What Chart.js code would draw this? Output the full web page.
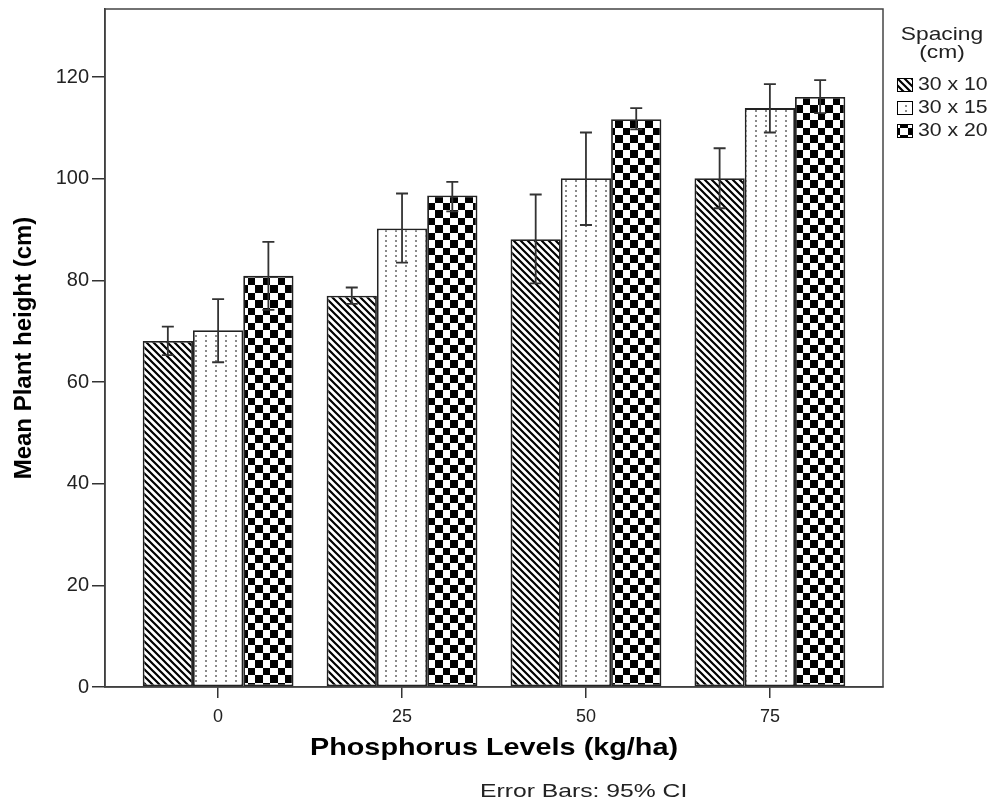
<!DOCTYPE html>
<html>
<head>
<meta charset="utf-8">
<script src="https://cdn.jsdelivr.net/npm/chart.js@4/dist/chart.umd.min.js"></script>
<style>
html,body{margin:0;padding:0;background:#fff;}
canvas{display:block;}
</style>
</head>
<body>
<canvas id="plantChart" width="992" height="811"></canvas>
<script>
// ---------- data ----------
const levels = ["0","25","50","75"];
const spacings = ["30 x 10","30 x 15","30 x 20"];

const mean30x10 = [68.1, 77.0, 88.1, 100.1];
const mean30x15 = [70.2, 90.2, 100.1, 113.9];
const mean30x20 = [80.9, 96.7, 111.7, 116.1];

// 95% CI limits
const low30x10 = [65.3, 75.4, 79.4, 94.2];
const high30x10 = [70.9, 78.6, 96.9, 106.0];
const low30x15 = [63.9, 83.5, 90.9, 109.1];
const high30x15 = [76.3, 97.1, 109.1, 118.6];
const low30x20 = [74.2, 93.6, 109.7, 112.9];
const high30x20 = [87.6, 99.4, 113.9, 119.4];

const yTicks = [0,20,40,60,80,100,120];

const canvas = document.getElementById("plantChart");
const ctx = canvas.getContext("2d");

// ---------- fill patterns ----------
function hatchPattern(){
    const c = document.createElement("canvas");
    c.width = 7; c.height = 7;
    const g = c.getContext("2d");
    g.fillStyle = "#fff";
    g.fillRect(0,0,7,7);
    g.strokeStyle = "#000";
    g.lineWidth = 2.2;
    g.beginPath();
    g.moveTo(-1,-1); g.lineTo(8,8);
    g.moveTo(-1,6); g.lineTo(1,8);
    g.moveTo(6,-1); g.lineTo(8,1);
    g.stroke();
    return ctx.createPattern(c,"repeat");
}

function dotPattern(){
    const c = document.createElement("canvas");
    c.width = 10; c.height = 5;
    const g = c.getContext("2d");
    g.fillStyle = "#fff";
    g.fillRect(0,0,10,5);
    g.fillStyle = "#8a8a8a";
    g.fillRect(5,0,2,2);
    return ctx.createPattern(c,"repeat");
}

function checkerPattern(){
    const c = document.createElement("canvas");
    c.width = 15; c.height = 15;
    const g = c.getContext("2d");
    g.fillStyle = "#fff";
    g.fillRect(0,0,15,15);
    g.fillStyle = "#000";
    g.fillRect(0,0,8,8);
    g.fillRect(8,8,7,7);
    return ctx.createPattern(c,"repeat");
}

const fills = [hatchPattern(), dotPattern(), checkerPattern()];
const means = [mean30x10, mean30x15, mean30x20];
const lows = [low30x10, low30x15, low30x20];
const highs = [high30x10, high30x15, high30x20];

// ---------- plugins ----------
const errorBars = {
    id:"errorBars",
    afterDatasetsDraw(chart){
        const c = chart.ctx;
        const y = chart.scales.y;
        c.save();
        c.strokeStyle = "#333";
        c.lineWidth = 1.8;
        chart.data.datasets.forEach((ds,d)=>{
            chart.getDatasetMeta(d).data.forEach((bar,i)=>{
                const top = y.getPixelForValue(highs[d][i]);
                const bot = y.getPixelForValue(lows[d][i]);
                c.beginPath();
                c.moveTo(bar.x,top); c.lineTo(bar.x,bot);
                c.moveTo(bar.x-6,top); c.lineTo(bar.x+6,top);
                c.moveTo(bar.x-6,bot); c.lineTo(bar.x+6,bot);
                c.stroke();
            });
        });
        c.restore();
    }
};

function stretchText(c,text,x,y,sx,align){
    c.save();
    c.translate(x,y);
    c.scale(sx,1);
    c.textAlign = align;
    c.fillText(text,0,0);
    c.restore();
}

const frameAndLegend = {
    id:"frameAndLegend",
    afterDraw(chart){
        const c = chart.ctx;
        const a = chart.chartArea;
        c.save();

        // frame
        c.strokeStyle = "#444";
        c.lineWidth = 1.5;
        c.strokeRect(a.left,a.top,a.right-a.left,a.bottom-a.top);

        // x axis title
        c.fillStyle = "#000";
        c.textBaseline = "middle";
        c.font = "bold 24px 'Liberation Sans'";
        stretchText(c,"Phosphorus Levels (kg/ha)",(a.left+a.right)/2,748,1.2,"center");

        // legend
        c.fillStyle = "#222";
        c.font = "19px 'Liberation Sans'";
        stretchText(c,"Spacing",942,35,1.2,"center");
        stretchText(c,"(cm)",942,53,1.2,"center");

        c.font = "18px 'Liberation Sans'";
        spacings.forEach((name,k)=>{
            const yy = 85 + k*23;
            c.fillStyle = fills[k];
            c.fillRect(897,yy-7,16,14);
            c.strokeStyle = "#000";
            c.lineWidth = 1;
            c.strokeRect(897.5,yy-6.5,15,13);
            c.fillStyle = "#222";
            stretchText(c,name,918,yy,1.18,"left");
        });

        // footer
        c.font = "19px 'Liberation Sans'";
        stretchText(c,"Error Bars: 95% CI",480,792,1.3,"left");

        c.restore();
    }
};

// ---------- chart ----------
new Chart(canvas,{
    type:"bar",
    data:{
        datasets:spacings.map((name,k)=>({
            label:name,
            data:levels.map((lv,i)=>({x:i,y:means[k][i]})),
            backgroundColor:fills[k],
            borderColor:"#222",
            borderWidth:1.8,
            borderSkipped:false,
            categoryPercentage:0.82,
            barPercentage:1
        }))
    },
    options:{
        responsive:false,
        animation:false,
        layout:{padding:{left:0,right:109,top:9,bottom:0}},
        plugins:{
            legend:{display:false},
            tooltip:{enabled:false}
        },
        scales:{
            x:{
                type:"linear",
                min:-0.615,
                max:3.615,
                offset:false,
                afterBuildTicks:s=>{ s.ticks = levels.map((lv,i)=>({value:i})); },
                afterFit:s=>{ s.height = 124; s.paddingLeft = 0; s.paddingRight = 0; },
                ticks:{
                    callback:v=>levels[v],
                    font:{family:"Liberation Sans",size:18},
                    color:"#222",
                    padding:8,
                    maxRotation:0,
                    autoSkip:false
                },
                grid:{drawOnChartArea:false,offset:false,tickLength:11,color:"#333",lineWidth:1.5},
                border:{display:true,color:"#333",width:1.5}
            },
            y:{
                min:0,
                max:133.4,
                afterBuildTicks:s=>{ s.ticks = yTicks.map(v=>({value:v})); },
                afterFit:s=>{ s.width = 105; s.paddingTop = 0; s.paddingBottom = 0; },
                ticks:{
                    font:{family:"Liberation Sans",size:20},
                    color:"#222",
                    padding:3
                },
                grid:{drawOnChartArea:false,tickLength:13,color:"#333",lineWidth:1.5},
                border:{display:true,color:"#333",width:1.5},
                title:{
                    display:true,
                    text:"Mean Plant height (cm)",
                    font:{family:"Liberation Sans",size:24,weight:"bold",lineHeight:1},
                    color:"#000",
                    padding:{top:12,bottom:0}
                }
            }
        }
    },
    plugins:[errorBars,frameAndLegend]
});
</script>
</body>
</html>
